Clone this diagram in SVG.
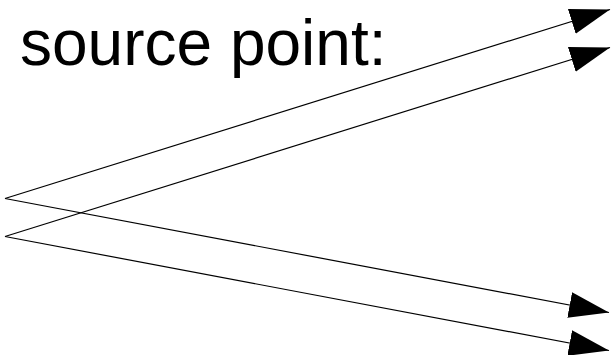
<svg xmlns="http://www.w3.org/2000/svg" width="611" height="355" viewBox="0 0 611 355">
  <style>
    .lbl { font-family: "Liberation Sans", Arial, sans-serif; font-size: 64px; fill: #000; }
    .conn { stroke: #000; stroke-width: 1.2; fill: none; marker-end: url(#arrow); }
  </style>
  <defs>
    <marker id="arrow" markerUnits="userSpaceOnUse" markerWidth="40" markerHeight="30" viewBox="0 0 34 22" refX="34" refY="11" orient="auto">
      <path d="M0,0 L34,11 L0,22 Z" fill="#000"/>
    </marker>
  </defs>
  <rect width="611" height="355" fill="#fff"/>
  <g id="label">
    <text class="lbl" x="20" y="65">source point:</text>
  </g>
  <g id="connectors">
    <line class="conn" x1="5" y1="198.5" x2="610" y2="9.5"/>
    <line class="conn" x1="5" y1="236.5" x2="610" y2="47.5"/>
    <line class="conn" x1="5" y1="198.5" x2="609" y2="312.5"/>
    <line class="conn" x1="5" y1="236.5" x2="609" y2="350.5"/>
  </g>
</svg>
